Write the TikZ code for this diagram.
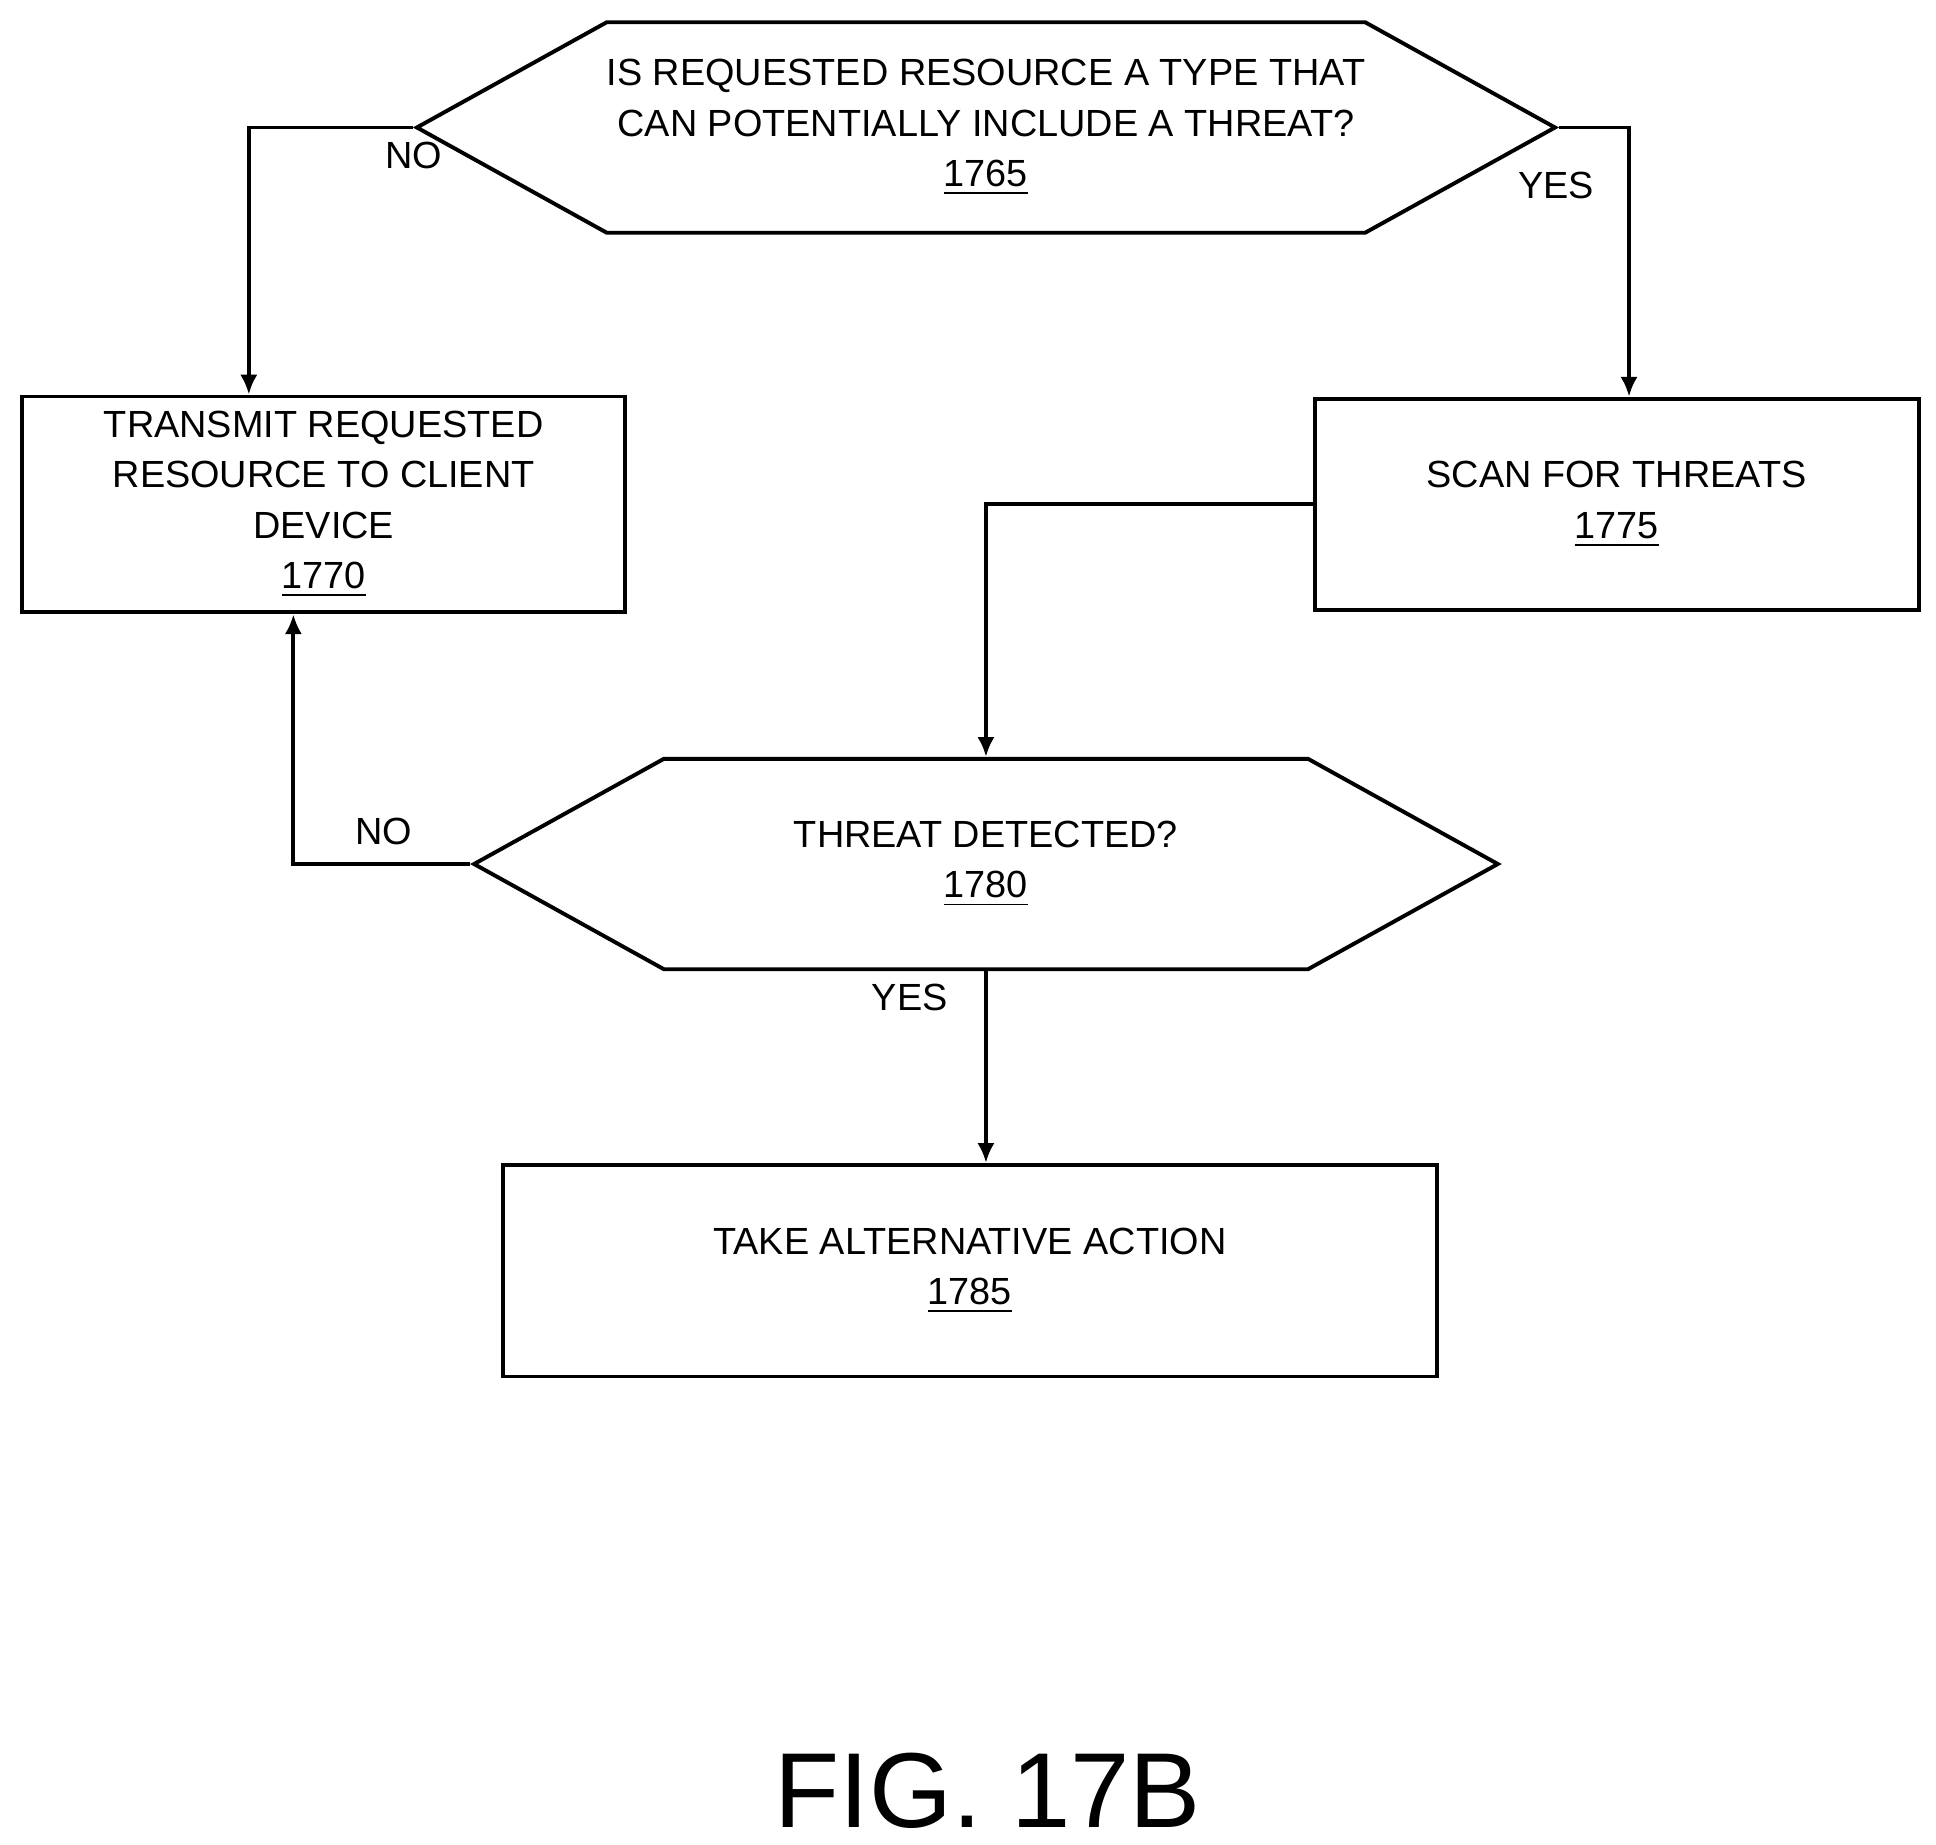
\documentclass[tikz,border=0pt]{standalone}
\usepackage{fontspec}
\setmainfont{Liberation Sans}
\usetikzlibrary{shapes.symbols,arrows.meta}
\tikzset{
  process/.style={draw,line width=0.9pt,align=center,minimum height=1.71cm,
    font=\fontsize{8.7}{11.6}\selectfont},
  test/.style={draw,line width=0.9pt,align=center,shape=signal,signal to=west and east,
    signal pointer angle=58,minimum width=8.27cm,minimum height=1.7cm,inner xsep=0pt,
    font=\fontsize{8.7}{11.6}\selectfont},
  flow/.style={line width=0.9pt,-{Latex[length=1.6mm,width=1.4mm]}},
  lbl/.style={font=\fontsize{8.7}{11.6}\selectfont}
}
\begin{document}
\begin{tikzpicture}
\useasboundingbox (0,0) rectangle (15.64,-14.9);

\node[test] (q1) at (7.965,-1.03) {IS REQUESTED RESOURCE A TYPE THAT\\CAN POTENTIALLY INCLUDE A THREAT?\\\underline{1765}};
\node[process,minimum width=4.87cm] (t) at (2.615,-4.075) {TRANSMIT REQUESTED\\RESOURCE TO CLIENT\\DEVICE\\\underline{1770}};
\node[process,minimum width=4.88cm] (s) at (13.06,-4.075) {SCAN FOR THREATS\\\underline{1775}};
\node[test] (q2) at (7.965,-6.98) {THREAT DETECTED?\\\underline{1780}};
\node[process,minimum width=7.55cm] (a) at (7.835,-10.265) {TAKE ALTERNATIVE ACTION\\\underline{1785}};
\node[font=\fontsize{24.5}{28}\selectfont] (fig) at (7.98,-14.47) {FIG. 17B};

\draw[flow] (q1.west) -| ([xshift=-0.605cm]t.north);
\draw[flow] (q1.east) -| ([xshift=0.1cm]s.north);
\draw[flow] (s.west) -| (q2.north);
\draw[flow] (q2.west) -| ([xshift=-0.245cm]t.south);
\draw[flow] (q2.south) -- (q2.south |- a.north);

\node[lbl] at (3.34,-1.26) {NO};
\node[lbl] at (12.57,-1.5) {YES};
\node[lbl] at (3.1,-6.72) {NO};
\node[lbl] at (7.35,-8.06) {YES};
\end{tikzpicture}
\end{document}
